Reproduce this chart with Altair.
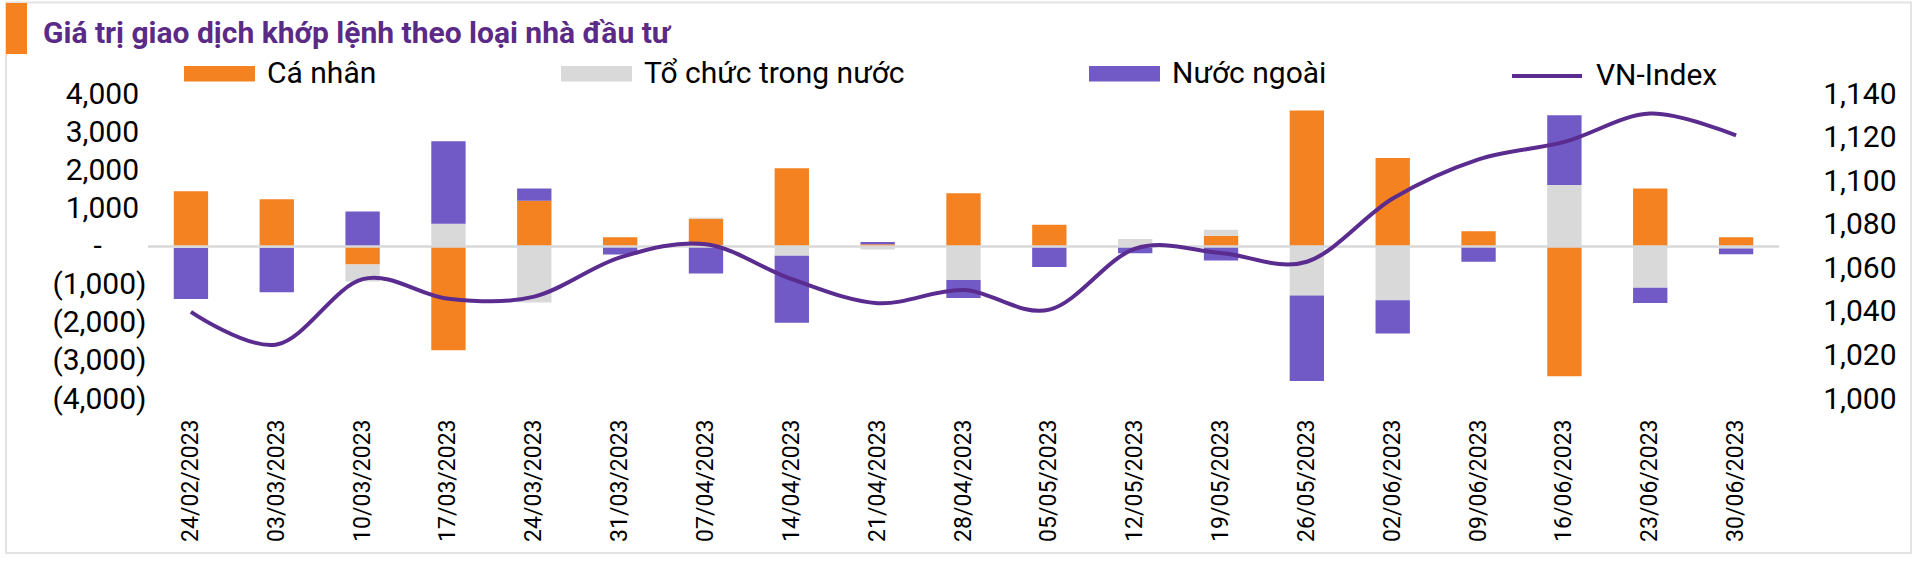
import altair as alt
import pandas as pd

# ---------------- data ----------------
dates = ["24/02/2023", "03/03/2023", "10/03/2023", "17/03/2023", "24/03/2023",
         "31/03/2023", "07/04/2023", "14/04/2023", "21/04/2023", "28/04/2023",
         "05/05/2023", "12/05/2023", "19/05/2023", "26/05/2023", "02/06/2023",
         "09/06/2023", "16/06/2023", "23/06/2023", "30/06/2023"]

ca_nhan = [1450, 1240, -470, -2720, 1200, 245, 730, 2050, 60, 1400,
           570, -15, 280, 3570, 2320, 400, -3400, 1520, 245]
to_chuc_trong_nuoc = [-40, -30, -450, 600, -1470, -10, 30, -245, -80, -880,
                      -20, 200, 160, -1285, -1410, -10, 1610, -1085, -50]
nuoc_ngoai = [-1340, -1170, 920, 2160, 320, -200, -710, -1755, 60, -470,
              -520, -160, -370, -2240, -870, -390, 1830, -395, -150]
vn_index = [1040, 1025, 1055, 1046, 1047, 1065, 1071, 1055, 1044, 1050,
            1041, 1069, 1067, 1063, 1092, 1110, 1118, 1131, 1121]

series_names = ["Cá nhân", "Tổ chức trong nước", "Nước ngoài"]
series_colors = ["#F58220", "#D9D9D9", "#7159C6"]
line_name = "VN-Index"
line_color = "#5B2C8F"
TITLE = "Giá trị giao dịch khớp lệnh theo loại nhà đầu tư"
left_ticks = [-4000, -3000, -2000, -1000, 0, 1000, 2000, 3000, 4000]
right_ticks = [1000, 1020, 1040, 1060, 1080, 1100, 1120, 1140]

# ---------------- tables ----------------
rows = []
for i, d in enumerate(dates):
    for k, (name, vals) in enumerate(zip(series_names,
                                         [ca_nhan, to_chuc_trong_nuoc, nuoc_ngoai])):
        rows.append({"date": d, "series": name, "value": vals[i], "order": k})
bars_df = pd.DataFrame(rows)
line_df = pd.DataFrame({"date": dates, "vn": vn_index, "name": line_name})
zero_df = pd.DataFrame({"value": [0]})
one_row = pd.DataFrame({"a": [0]})

FONT = "Roboto"
W, H = 1631, 305
PL, PT = 148, 94

x_enc = alt.X("date:N", sort=dates,
              scale=alt.Scale(paddingInner=0.6, paddingOuter=0.3),
              axis=alt.Axis(title=None, labelAngle=270, labelFontSize=23,
                            labelPadding=20, domain=False, ticks=False,
                            labelColor="#000000", labelFont=FONT,
                            labelOverlap=False))

# accounting-style labels: trailing spaces protected by a zero-width char
NB = "\u00a0"
ZW = "\u200b"
left_label_expr = ("datum.value > 0 ? format(datum.value, ',') + '" + NB + ZW + "' : "
                   "(datum.value < 0 ? '(' + format(-datum.value, ',') + ')' : "
                   "'-" + NB * 6 + ZW + "')")

y_left_scale = alt.Scale(domain=[-4000, 4000], nice=False, zero=False)
y_left_axis = alt.Axis(title=None, orient="left", values=left_ticks,
                       labelExpr=left_label_expr, grid=False, domain=False,
                       ticks=False, labelFontSize=30, labelPadding=2,
                       labelColor="#000000", labelFont=FONT,
                       labelOverlap=False)

bars = alt.Chart(bars_df).mark_bar().encode(
    x=x_enc,
    y=alt.Y("value:Q", stack="zero", scale=y_left_scale, axis=y_left_axis),
    fill=alt.Fill("series:N",
                  scale=alt.Scale(domain=series_names, range=series_colors),
                  legend=alt.Legend(title=None, orient="none", legendX=36, legendY=-56,
                                    direction="horizontal",
                                    symbolType="M-1,-0.22H1V0.22H-1Z",
                                    symbolSize=5041, symbolStrokeWidth=0,
                                    labelFontSize=30, labelFont=FONT,
                                    labelColor="#000000", labelOffset=12,
                                    labelLimit=0, columnPadding=184, padding=0)),
    order=alt.Order("order:Q"),
)

zero_rule = alt.Chart(zero_df).mark_rule(color="#D9D9D9", strokeWidth=2.5).encode(
    y=alt.Y("value:Q", scale=y_left_scale, axis=y_left_axis)
)

line = alt.Chart(line_df).mark_line(strokeWidth=4, interpolate="cardinal").encode(
    x=x_enc,
    y=alt.Y("vn:Q",
            scale=alt.Scale(domain=[1000, 1140], nice=False, zero=False),
            axis=alt.Axis(title=None, orient="right", values=right_ticks,
                          labelExpr="format(datum.value, ',')",
                          grid=False, domain=False, ticks=False, labelFontSize=30,
                          labelAlign="right", labelPadding=117,
                          labelColor="#000000", labelFont=FONT,
                          labelOverlap=False)),
    stroke=alt.Stroke("name:N",
                      scale=alt.Scale(domain=[line_name], range=[line_color]),
                      legend=alt.Legend(title=None, orient="none", legendX=1362,
                                        legendY=-55, symbolType="stroke",
                                        symbolSize=4900, symbolStrokeWidth=4,
                                        labelFontSize=30, labelFont=FONT,
                                        labelColor="#000000", labelOffset=12,
                                        labelLimit=0, padding=0)),
)

frame = alt.Chart(one_row).mark_rect(fillOpacity=0, stroke="#E3E3E3", strokeWidth=2).encode(
    x=alt.value(6 - PL), x2=alt.value(1911 - PL),
    y=alt.value(2.5 - PT), y2=alt.value(553 - PT),
)
title_bar = alt.Chart(one_row).mark_rect(color="#F58220").encode(
    x=alt.value(6 - PL), x2=alt.value(27 - PL),
    y=alt.value(3 - PT), y2=alt.value(54 - PT),
)
title_text = alt.Chart(one_row).mark_text(
    text=TITLE, font=FONT, fontSize=30, fontWeight="bold", color="#5B2A86",
    align="left", baseline="alphabetic",
).encode(x=alt.value(43 - PL), y=alt.value(43 - PT))

inner = alt.layer(bars, zero_rule)
chart = alt.layer(frame, title_bar, title_text, inner, line).resolve_scale(
    y="independent"
).properties(
    width=W, height=H,
    padding={"left": PL, "top": PT, "right": 1920 - PL - W, "bottom": 577 - PT - H},
    autosize=alt.AutoSizeParams(type="none"),
    background="white",
).configure_view(stroke=None)

chart.save("out.html", embed_options={"renderer": "svg", "actions": False})
